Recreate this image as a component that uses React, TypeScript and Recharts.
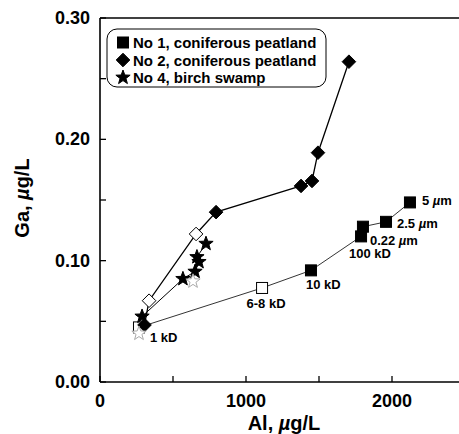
import { ScatterChart, Scatter, XAxis, YAxis, Legend } from "recharts";

// No 1, coniferous peatland (squares): size fractions
const no1Al = [267, 1110, 1445, 1788, 1801, 1959, 2123];
const no1Ga = [0.045, 0.0775, 0.092, 0.12, 0.128, 0.132, 0.148];
const no1Open = [true, true, false, false, false, false, false];
const no1Labels = ["1 kD", "6-8 kD", "10 kD", "100 kD", "0.22 µm", "2.5 µm", "5 µm"];

// No 2, coniferous peatland (diamonds)
const no2Al = [305, 336, 658, 795, 1377, 1452, 1493, 1705];
const no2Ga = [0.047, 0.067, 0.122, 0.14, 0.1616, 0.1657, 0.189, 0.264];
const no2Open = [false, true, true, false, false, false, false, false];

// No 4, birch swamp (stars)
const no4Al = [288, 568, 651, 678, 664, 726];
const no4Ga = [0.054, 0.085, 0.091, 0.099, 0.103, 0.114];
const no4OpenAl = [267, 637];
const no4OpenGa = [0.04, 0.083];

const xTicks = [0, 500, 1000, 1500, 2000, 2500];
const yTicks = [0, 0.05, 0.1, 0.15, 0.2, 0.25, 0.3];
const legendNames = ["No 1, coniferous peatland", "No 2, coniferous peatland", "No 4, birch swamp"];

const no1 = no1Al.map((x, i) => ({ x, y: no1Ga[i], open: no1Open[i], label: no1Labels[i] }));
const no2 = no2Al.map((x, i) => ({ x, y: no2Ga[i], open: no2Open[i] }));
const no4 = no4Al.map((x, i) => ({ x, y: no4Ga[i], open: false }));
const no4Open = no4OpenAl.map((x, i) => ({ x, y: no4OpenGa[i], open: true }));

// label placement next to the squares: [dx, dy, anchor]
const labelPos: Record<string, [number, number, string]> = {
  "1 kD": [11, 15, "start"],
  "6-8 kD": [4, 20, "middle"],
  "10 kD": [-5, 19, "start"],
  "100 kD": [-12, 22, "start"],
  "0.22 µm": [7, 18, "start"],
  "2.5 µm": [11, 6, "start"],
  "5 µm": [12, 3, "start"],
};

const font = "'Liberation Sans', Arial, Helvetica, sans-serif";

function starPoints(cx: number, cy: number, r: number, ri: number) {
  const pts = [];
  for (let i = 0; i < 10; i++) {
    const a = (Math.PI / 5) * i - Math.PI / 2;
    const rr = i % 2 === 0 ? r : ri;
    pts.push(`${cx + rr * Math.cos(a)},${cy + rr * Math.sin(a)}`);
  }
  return pts.join(" ");
}

const Square = ({ cx, cy, open }: any) => (
  <rect x={cx - 5.5} y={cy - 5.5} width={11} height={11} fill={open ? "#fff" : "#000"} stroke="#000" strokeWidth={1} />
);
const Diamond = ({ cx, cy, open }: any) => (
  <polygon
    points={`${cx},${cy - 6.8} ${cx + 6.8},${cy} ${cx},${cy + 6.8} ${cx - 6.8},${cy}`}
    fill={open ? "#fff" : "#000"}
    stroke="#000"
    strokeWidth={1}
  />
);
const Star = ({ cx, cy, open }: any) => (
  <polygon
    points={starPoints(cx, cy, 7.5, 3.1)}
    fill={open ? "#fff" : "#000"}
    stroke={open ? "#aaa" : "#000"}
    strokeWidth={1}
  />
);

const Unit = () => <tspan fontStyle="italic">µ</tspan>;

function withUnit(s: string) {
  const i = s.indexOf("µ");
  if (i < 0) return s;
  return (
    <>
      {s.slice(0, i)}
      <Unit />
      {s.slice(i + 1)}
    </>
  );
}

const SquareShape = (props: any) => {
  const { cx, cy, payload } = props;
  const [dx, dy, anchor] = labelPos[payload.label];
  return (
    <g>
      <Square cx={cx} cy={cy} open={payload.open} />
      <text x={cx + dx} y={cy + dy} textAnchor={anchor as any} fontFamily={font} fontWeight="bold" fontSize={13} fill="#000">
        {withUnit(payload.label)}
      </text>
    </g>
  );
};
const DiamondShape = (props: any) => <Diamond cx={props.cx} cy={props.cy} open={props.payload.open} />;
const StarShape = (props: any) => <Star cx={props.cx} cy={props.cy} open={props.payload.open} />;

const BottomTick = ({ x, y, payload }: any) => (
  <g>
    <line x1={x} x2={x} y1={y} y2={y - 6} stroke="#000" strokeWidth={1.3} />
    {payload.value % 1000 === 0 && (
      <text x={x} y={y + 25} textAnchor="middle" fontFamily={font} fontWeight="bold" fontSize={18} fill="#000">
        {payload.value}
      </text>
    )}
  </g>
);
const TopTick = ({ x, y }: any) => <line x1={x} x2={x} y1={y} y2={y + 6} stroke="#000" strokeWidth={1.3} />;
const LeftTick = ({ x, y, payload }: any) => (
  <g>
    <line x1={x} x2={x + 6} y1={y} y2={y} stroke="#000" strokeWidth={1.3} />
    {Math.round(payload.value * 100) % 10 === 0 && (
      <text x={x - 10} y={y + 6} textAnchor="end" fontFamily={font} fontWeight="bold" fontSize={18} fill="#000">
        {payload.value.toFixed(2)}
      </text>
    )}
  </g>
);

const renderLegend = () => (
  <svg width={221} height={60}>
    <rect x={1} y={1} width={219} height={58} rx={10} fill="#fff" stroke="#000" strokeWidth={1} />
    {legendNames.map((name, i) => {
      const base = 20 + i * 17.5;
      const my = base - 5.5;
      return (
        <g key={name}>
          {i === 0 && <Square cx={17} cy={my} open={false} />}
          {i === 1 && <Diamond cx={17} cy={my} open={false} />}
          {i === 2 && <Star cx={17} cy={my} open={false} />}
          <text x={27} y={base} fontFamily={font} fontWeight="bold" fontSize={15} fill="#000">
            {name}
          </text>
        </g>
      );
    })}
  </svg>
);

export default function App() {
  return (
    <div style={{ position: "absolute", left: 0, top: 0, width: 459, height: 434, overflow: "hidden", background: "#fff" }}>
      <ScatterChart width={480} height={434} margin={{ top: 8, right: 15, bottom: 22, left: 80 }}>
        <XAxis
          type="number"
          dataKey="x"
          domain={[0, 2500]}
          ticks={xTicks}
          height={30}
          tickSize={0}
          tickMargin={0}
          tickLine={false}
          tick={<BottomTick />}
          axisLine={{ stroke: "#000", strokeWidth: 1.6 }}
          label={{
            content: () => (
              <text x={284} y={430} textAnchor="middle" fontFamily={font} fontWeight="bold" fontSize={20} fill="#000">
                Al, <Unit />g/L
              </text>
            ),
          }}
        />
        <XAxis
          xAxisId="top"
          orientation="top"
          type="number"
          dataKey="x"
          domain={[0, 2500]}
          ticks={xTicks}
          height={10}
          tickSize={0}
          tickMargin={0}
          tickLine={false}
          tick={<TopTick />}
          axisLine={{ stroke: "#000", strokeWidth: 1.6 }}
        />
        <YAxis
          type="number"
          dataKey="y"
          domain={[0, 0.3]}
          ticks={yTicks}
          width={20}
          tickSize={0}
          tickMargin={0}
          tickLine={false}
          tick={<LeftTick />}
          axisLine={{ stroke: "#000", strokeWidth: 1.6 }}
          label={{
            content: () => (
              <text
                x={29}
                y={198}
                transform="rotate(-90 29 198)"
                textAnchor="middle"
                fontFamily={font}
                fontWeight="bold"
                fontSize={20}
                fill="#000"
              >
                Ga, <Unit />g/L
              </text>
            ),
          }}
        />
        <Legend
          layout="vertical"
          align="center"
          verticalAlign="middle"
          content={renderLegend}
          wrapperStyle={{ position: "absolute", left: 106, top: 28, width: 221, height: 60 }}
        />
        <Scatter
          name="No 1, coniferous peatland"
          data={no1}
          line={{ stroke: "#000", strokeWidth: 0.8 }}
          shape={SquareShape}
          isAnimationActive={false}
        />
        <Scatter
          name="No 2, coniferous peatland"
          data={no2}
          line={{ stroke: "#000", strokeWidth: 1.3 }}
          shape={DiamondShape}
          isAnimationActive={false}
        />
        <Scatter
          name="No 4, birch swamp"
          data={no4}
          line={{ stroke: "#000", strokeWidth: 1 }}
          shape={StarShape}
          isAnimationActive={false}
        />
        <Scatter name="No 4 open" data={no4Open} shape={StarShape} legendType="none" isAnimationActive={false} />
      </ScatterChart>
    </div>
  );
}
